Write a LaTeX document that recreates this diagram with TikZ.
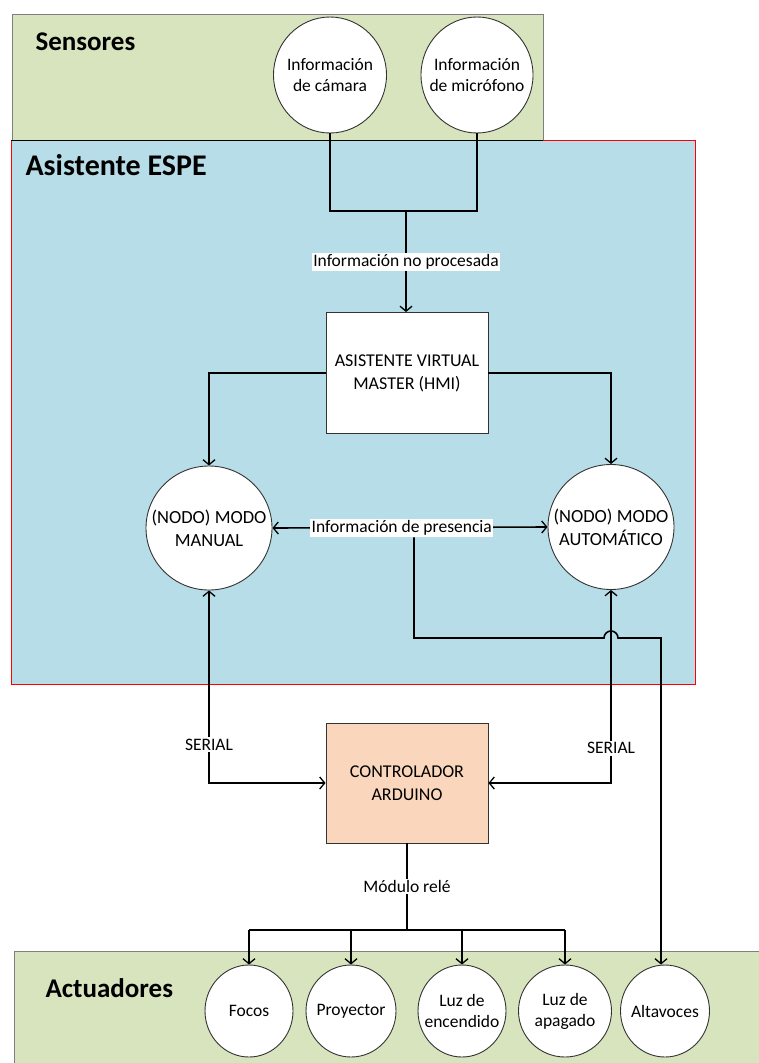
\documentclass[tikz,border=0pt]{standalone}
\usepackage{fontspec}
\setmainfont{Carlito}
\usetikzlibrary{shapes.geometric,arrows.meta}
\definecolor{zonegreen}{HTML}{D7E4BD}
\definecolor{zoneblue}{HTML}{B7DDE8}
\definecolor{peach}{HTML}{FAD7BC}
\definecolor{edgegray}{HTML}{7F7F7F}
\tikzset{
  conn/.style={line width=1.6pt,black},
  tip/.tip={Straight Barb[length=5pt,width=12pt,line width=1.3pt]},
  arr/.style={conn,-tip},
  darr/.style={conn,tip-tip},
  % negative inner sep keeps each oval at its given size
  oval/.style={ellipse,draw=black!80,line width=0.9pt,fill=white,inner sep=-15pt,align=center,font=\fontsize{17.5}{21}\selectfont},
  block/.style={rectangle,draw=black!80,line width=0.9pt,inner sep=0pt,align=center,minimum width=162pt,minimum height=121pt,font=\fontsize{18}{23}\selectfont},
  tag/.style={fill=white,inner sep=1.5pt,font=\fontsize{17.5}{20}\selectfont},
  zonetitle/.style={anchor=west,font=\bfseries\fontsize{27}{31}\selectfont}
}
\begin{document}
\begin{tikzpicture}[x=1pt,y=-1pt]
\useasboundingbox (0,0) rectangle (759,1063);

% zones
\fill[zonegreen] (12,14) rectangle (543,140);
\draw[edgegray,line width=1pt] (12,140) -- (12,14) -- (543,14) -- (543,140);
\fill[zoneblue] (11,140) rectangle (695,684);
\draw[red,line width=1pt] (11,140) rectangle (695,684);
\draw[black,line width=0.8pt] (11,140) -- (543,140);
\fill[zonegreen] (14,951) rectangle (759,1063);
\draw[edgegray,line width=1pt] (14,1063) -- (14,951) -- (759,951);

\node[zonetitle] (tsens) at (32,42) {Sensores};
\node[zonetitle,font=\bfseries\fontsize{30}{34}\selectfont] (tasis) at (22,165) {Asistente ESPE};
\node[zonetitle] (tact) at (42,988) {Actuadores};

% sensors
\node[oval,minimum width=113pt,minimum height=116pt] (cam) at (330,75) {Información\\de cámara};
\node[oval,minimum width=112pt,minimum height=116pt] (mic) at (477,75) {Información\\de micrófono};

% main blocks
\node[block,fill=white] (hmi) at (407,373) {ASISTENTE VIRTUAL\\MASTER (HMI)};
\node[oval,minimum width=126pt,minimum height=124pt,font=\fontsize{18.5}{23}\selectfont] (man) at (209,528) {(NODO) MODO\\MANUAL};
\node[oval,minimum width=126pt,minimum height=125pt,font=\fontsize{18.5}{23}\selectfont] (auto) at (611,527) {(NODO) MODO\\AUTOMÁTICO};
\node[block,fill=peach,minimum height=120pt] (ard) at (407,783) {CONTROLADOR\\ARDUINO};

% actuators
\node[oval,minimum width=88pt,minimum height=92pt] (focos) at (249,1011) {Focos};
\node[oval,minimum width=90pt,minimum height=92pt] (proy) at (351,1011) {Proyector};
\node[oval,minimum width=88pt,minimum height=92pt] (luzon) at (462,1011) {Luz de\\encendido};
\node[oval,minimum width=93pt,minimum height=92pt] (luzoff) at (565,1011) {Luz de\\apagado};
\node[oval,minimum width=89pt,minimum height=92pt] (alt) at (665,1011) {Altavoces};

% junction points
\coordinate (join) at (406,211);
\coordinate (relay) at (407,930);
\coordinate (pres) at (414,537);
\coordinate (hopl) at (604,638);

% sensor data into the HMI
\draw[conn] (cam.south) |- (join) -| (mic.south);
\draw[arr] (join) -- node[tag] (tnp) {Información no procesada} (join |- hmi.north);

% HMI to both nodes
\draw[arr] (hmi.west) -| (man.north);
\draw[arr] (hmi.east) -| (auto.north);

% presence information between the nodes
\draw[darr] (man.east) -- node[tag,pos=0.47] (tpres) {Información de presencia} (auto.west);

% presence information to the speakers, hopping over the serial line
\draw[arr] (tpres.south -| pres) -- (pres |- hopl) -- (hopl)
  arc[start angle=180,end angle=360,radius=7] -- (661,638) -- (661,638 |- alt.north);

% serial links
\draw[darr] (man.south) |- node[tag,pos=0.4] (ts1) {SERIAL} (ard.west);
\draw[darr] (auto.south) |- node[tag,pos=0.41] (ts2) {SERIAL} (ard.east);

% relay module to the actuators
\draw[conn] (ard.south) -- node[tag] (trel) {Módulo relé} (relay);
\draw[conn] (focos.north |- relay) -- (luzoff.north |- relay);
\draw[arr] (focos.north |- relay) -- (focos.north);
\draw[arr] (proy.north |- relay) -- (proy.north);
\draw[arr] (luzon.north |- relay) -- (luzon.north);
\draw[arr] (luzoff.north |- relay) -- (luzoff.north);
\end{tikzpicture}
\end{document}
